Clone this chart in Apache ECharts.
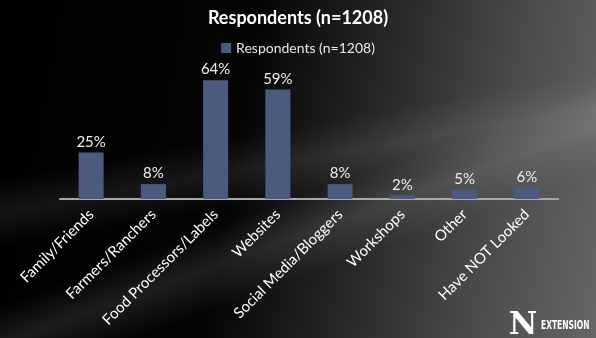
<!DOCTYPE html>
<html><head><meta charset="utf-8">
<script src="https://cdn.jsdelivr.net/npm/echarts@6/dist/echarts.min.js"></script>
<style>
html,body{margin:0;padding:0;width:596px;height:338px;overflow:hidden;}
#bg{position:absolute;left:0;top:0;width:596px;height:338px;
background:
 linear-gradient(160deg, rgba(255,255,255,0) 55%, rgba(255,255,255,0.10) 62%, rgba(255,255,255,0) 70%),
 linear-gradient(170deg, rgba(255,255,255,0) 40%, rgba(255,255,255,0.08) 48%, rgba(255,255,255,0) 56%),
 linear-gradient(100deg, #000 0%, #050505 40%, #2a2a2a 62%, #4a4a4a 80%, #666 100%);}
#c{position:absolute;left:0;top:0;width:596px;height:338px;}
</style></head><body>
<div id="bg"></div><div id="c"></div>
<script>
const categories = ["Family/Friends","Farmers/Ranchers","Food Processors/Labels","Websites","Social Media/Bloggers","Workshops","Other","Have NOT Looked"];
const values = [25, 8, 64, 59, 8, 2, 5, 6];
const seriesName = "Respondents (n=1208)";
const titleText = "Respondents (n=1208)";

const chart = echarts.init(document.getElementById('c'), null, {renderer:'canvas'});
const font = "Lato, 'Open Sans', sans-serif";
chart.setOption({
  backgroundColor: 'transparent',
  animation: false,
  title: {text: titleText, left: 'center', top: 4,
    textStyle: {color:'#fff', fontSize:18, fontWeight:'bold', fontFamily: font}},
  legend: {top: 36, left: 'center', itemWidth: 10, itemHeight: 10, itemGap: 5,
    icon: 'rect',
    textStyle: {color:'#e8e8e8', fontSize:14, fontFamily: font}},
  grid: {left: 60, right: 38, top: 69, bottom: 139, containLabel: false},
  xAxis: {type:'category', data: categories,
    axisLine: {lineStyle:{color:'#a8a8a8', width:2}},
    axisTick: {show:false},
    axisLabel: {rotate: 45, color:'#fff', fontSize:15, fontFamily: font, margin: 13, interval: 0}},
  yAxis: {type:'value', min:0, max:70, show:false, splitLine:{show:false}},
  series: [{name: seriesName, type:'bar', data: values, barWidth: 25,
    itemStyle: {color:'#4b5b80'},
    label: {show:true, position:'top', formatter: '{c}%', color:'#eee', fontSize:15, fontFamily: font, distance: 3}}],
  graphic: [
    {type:'text', left: 509, top: 310, style:{text:'N', fill:'#fff', font:"bold 31px 'DejaVu Serif', serif"}},
    {type:'text', x: 541, y: 319, scaleX: 0.58, style:{text:'EXTENSION', fill:'#fff', font:"bold 13px 'DejaVu Sans', sans-serif"}}
  ]
});
</script>
</body></html>
